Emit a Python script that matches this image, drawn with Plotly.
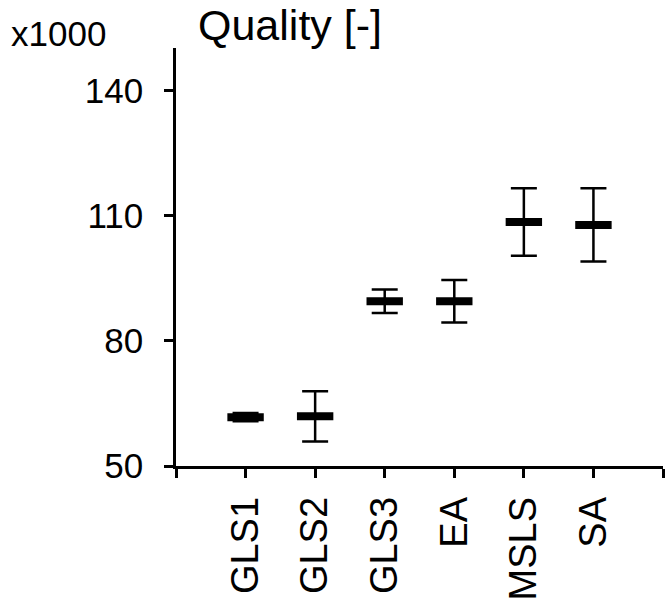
import plotly.graph_objects as go

categories = ["GLS1", "GLS2", "GLS3", "EA", "MSLS", "SA"]
positions = [1, 2, 3, 4, 5, 6]
quality_mean = [61.7, 61.9, 89.5, 89.5, 108.5, 107.8]   # x1000
quality_err = [1.0, 6.0, 2.8, 5.1, 8.1, 8.8]            # x1000
y_ticks = [50, 80, 110, 140]

FONT = "Liberation Sans, Arial, sans-serif"

fig = go.Figure()
fig.add_trace(go.Scatter(
    x=positions, y=quality_mean, mode="markers",
    marker=dict(symbol="line-ew", size=26, color="black",
                line=dict(color="black", width=8)),
    error_y=dict(type="data", array=quality_err, visible=True,
                 color="black", thickness=2.5, width=13),
    showlegend=False, hoverinfo="skip",
))

fig.update_layout(
    width=665, height=600,
    margin=dict(l=176, r=2, t=48, b=134),
    paper_bgcolor="white", plot_bgcolor="white",
    font=dict(family=FONT, color="black"),
    xaxis=dict(
        range=[0, 7], tickmode="array",
        tickvals=[0] + positions + [7],
        ticktext=[""] + categories + [""],
        tickangle=-90, tickfont=dict(size=38, family=FONT),
        ticks="outside", ticklen=9, tickwidth=2.5, tickcolor="black",
        showline=True, linecolor="black", linewidth=2.5,
        showgrid=False, zeroline=False, fixedrange=True,
        ticklabelstandoff=4, automargin=False,
    ),
    yaxis=dict(
        range=[50, 150.2], tickmode="array", tickvals=y_ticks,
        ticktext=[str(v) for v in y_ticks],
        tickfont=dict(size=35, family=FONT),
        ticks="outside", ticklen=9, tickwidth=2.5, tickcolor="black",
        showline=True, linecolor="black", linewidth=2.5,
        showgrid=False, zeroline=False, fixedrange=True,
        ticklabelstandoff=14, automargin=False,
    ),
    annotations=[
        dict(text="Quality [-]", xref="paper", yref="paper",
             x=(290 - 176) / 487, y=1 + (48 - 25) / 418,
             xanchor="center", yanchor="middle", showarrow=False,
             font=dict(size=43, family=FONT, color="black")),
        dict(text="x1000", xref="paper", yref="paper",
             x=(58 - 176) / 487, y=1 + (48 - 33) / 418,
             xanchor="center", yanchor="middle", showarrow=False,
             font=dict(size=35, family=FONT, color="black")),
    ],
)

fig.write_html(
    "out.html",
    config={"displayModeBar": False},
    post_script="document.body.style.margin='0';document.body.style.overflow='hidden';",
)
